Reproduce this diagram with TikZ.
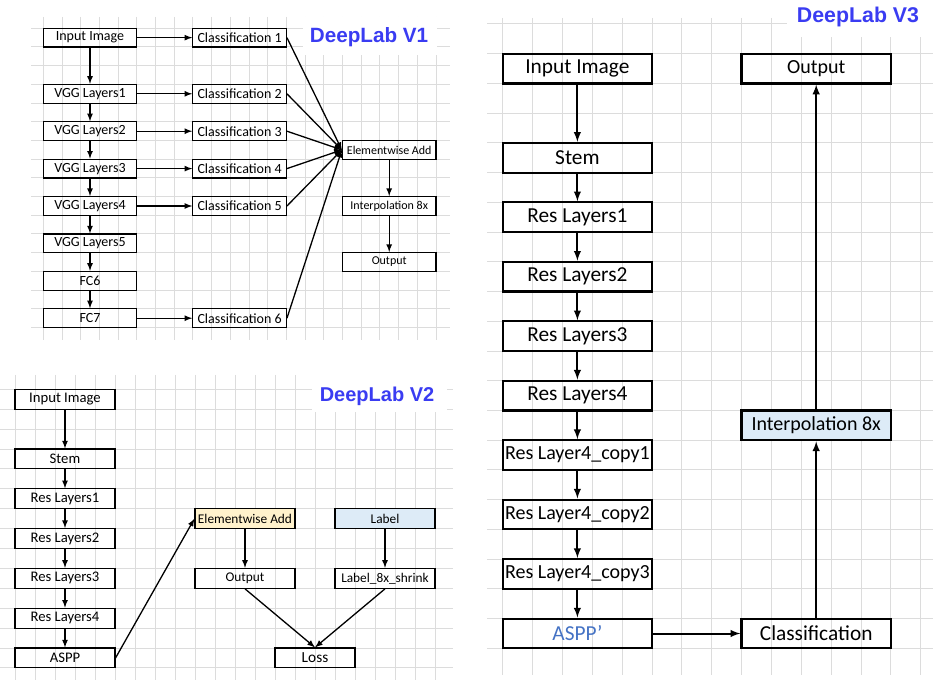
\documentclass[tikz,border=0pt]{standalone}
\usepackage{fontspec}
\setmainfont{Carlito}
\newfontfamily\headfont{Liberation Sans}
\usetikzlibrary{shapes.geometric, arrows, positioning, calc}

\definecolor{gridgray}{RGB}{220,220,220}
\definecolor{headblue}{RGB}{58,60,242}
\definecolor{asppblue}{RGB}{68,114,196}
\definecolor{addyellow}{RGB}{255,242,204}
\definecolor{labelblue}{RGB}{221,235,247}

\newdimen\px
\px=0.75pt

\tikzset{
  gridline/.style={gridgray, line width=1\px},
  heading/.style={text=headblue, inner sep=0pt, font=\headfont\bfseries},
  boxa/.style={draw, line width=1.2\px, minimum width=93.5\px, minimum height=18.7\px, inner sep=0pt, font=\fontsize{10.5}{12}\selectfont},
  boxb/.style={draw, line width=1.1\px, minimum width=100\px, minimum height=19.9\px, inner sep=0pt, font=\fontsize{11}{13}\selectfont},
  boxc/.style={draw, line width=2.2\px, minimum width=149.5\px, minimum height=29.7\px, inner sep=0pt, font=\fontsize{16}{19}\selectfont},
  linka/.style={-latex, line width=1.3\px},
  linkb/.style={-latex, line width=1.3\px},
  linkc/.style={-latex, line width=2\px},
}

\begin{document}
\begin{tikzpicture}[x=0.75pt, y=-0.75pt]
\useasboundingbox (0,0) rectangle (933,681);

% Grids
\foreach \k in {0,...,21} \draw[gridline] (43.3+18.7*\k,17) -- (43.3+18.7*\k,340);
\foreach \k in {0,...,16} \draw[gridline] (31,28.3+18.7*\k) -- (450,28.3+18.7*\k);
\foreach \k in {0,...,21} \draw[gridline] (15+20*\k,375) -- (15+20*\k,680);
\foreach \k in {0,...,14} \draw[gridline] (0,389.3+19.9*\k) -- (453,389.3+19.9*\k);
\foreach \k in {0,...,14} \draw[gridline] (502.7+29.86*\k,18) -- (502.7+29.86*\k,675);
\foreach \k in {0,...,21} \draw[gridline] (487,24+29.73*\k) -- (933,24+29.73*\k);

% Titles
\fill[white] (303,17) rectangle (437,55);
\fill[white] (312,373) rectangle (447,412);
\fill[white] (787,0) rectangle (933,37);
\node[heading, font=\headfont\bfseries\fontsize{15.5}{18}\selectfont] (v1title) at (369,37) {DeepLab V1};
\node[heading, font=\headfont\bfseries\fontsize{15}{18}\selectfont] (v2title) at (377,396) {DeepLab V2};
\node[heading, font=\headfont\bfseries\fontsize{16}{19}\selectfont] (v3title) at (858,17) {DeepLab V3};

% DeepLab V1
\node[boxa] (in1) at (90,37.65) {Input Image};
\node[boxa] (vgg1) at (90,93.8) {VGG Layers1};
\node[boxa] (vgg2) at (90,131.2) {VGG Layers2};
\node[boxa] (vgg3) at (90,168.6) {VGG Layers3};
\node[boxa] (vgg4) at (90,206) {VGG Layers4};
\node[boxa] (vgg5) at (90,243.4) {VGG Layers5};
\node[boxa] (fc6) at (90,280.8) {FC6};
\node[boxa] (fc7) at (90,318.2) {FC7};

\node[boxa] (cls1) at (239.6,37.65) {Classification 1};
\node[boxa] (cls2) at (239.6,93.8) {Classification 2};
\node[boxa] (cls3) at (239.6,131.2) {Classification 3};
\node[boxa] (cls4) at (239.6,168.6) {Classification 4};
\node[boxa] (cls5) at (239.6,206) {Classification 5};
\node[boxa] (cls6) at (239.6,318.2) {Classification 6};

\node[boxa, font=\fontsize{9}{11}\selectfont] (add1) at (389.2,149.9) {Elementwise Add};
\node[boxa, font=\fontsize{9}{11}\selectfont] (interp1) at (389.2,206) {Interpolation 8x};
\node[boxa, font=\fontsize{9}{11}\selectfont] (out1) at (389.2,262) {Output};

\draw[linka] (in1) -- (vgg1);
\draw[linka] (vgg1) -- (vgg2);
\draw[linka] (vgg2) -- (vgg3);
\draw[linka] (vgg3) -- (vgg4);
\draw[linka] (vgg4) -- (vgg5);
\draw[linka] (vgg5) -- (fc6);
\draw[linka] (fc6) -- (fc7);
\draw[linka] (in1) -- (cls1);
\draw[linka] (vgg1) -- (cls2);
\draw[linka] (vgg2) -- (cls3);
\draw[linka] (vgg3) -- (cls4);
\draw[linka] (vgg4) -- (cls5);
\draw[linka] (fc7) -- (cls6);
\foreach \c in {cls1,cls2,cls3,cls4,cls5,cls6}
  \draw[linka] (\c.east) -- (add1.west);
\draw[linka] (add1) -- (interp1);
\draw[linka] (interp1) -- (out1);

% DeepLab V2
\node[boxb] (in2) at (65,399.25) {Input Image};
\node[boxb] (stem2) at (65,458.95) {Stem};
\node[boxb] (res21) at (65,498.75) {Res Layers1};
\node[boxb] (res22) at (65,538.55) {Res Layers2};
\node[boxb] (res23) at (65,578.35) {Res Layers3};
\node[boxb] (res24) at (65,618.15) {Res Layers4};
\node[boxb] (aspp2) at (65,657.95) {ASPP};

\node[boxb, fill=addyellow, font=\fontsize{10}{12}\selectfont] (add2) at (245,518.65) {Elementwise Add};
\node[boxb, fill=labelblue, font=\fontsize{10}{12}\selectfont] (lab2) at (385,518.65) {Label};
\node[boxb, font=\fontsize{10}{12}\selectfont] (out2) at (245,578.35) {Output};
\node[boxb, font=\fontsize{10}{12}\selectfont] (shrink2) at (385,578.35) {Label\_8x\_shrink};
\node[boxb, minimum width=80\px, font=\fontsize{11.5}{13}\selectfont] (loss2) at (315,657.95) {Loss};

\draw[linkb] (in2) -- (stem2);
\draw[linkb] (stem2) -- (res21);
\draw[linkb] (res21) -- (res22);
\draw[linkb] (res22) -- (res23);
\draw[linkb] (res23) -- (res24);
\draw[linkb] (res24) -- (aspp2);
\draw[linkb] (aspp2.east) -- (add2.west);
\draw[linkb] (add2) -- (out2);
\draw[linkb] (lab2) -- (shrink2);
\draw[linkb] (out2.south) -- (loss2.north);
\draw[linkb] (shrink2.south) -- (loss2.north);

% DeepLab V3
\node[boxc] (in3) at (577.4,68.6) {Input Image};
\node[boxc] (stem3) at (577.4,157.8) {Stem};
\node[boxc] (res31) at (577.4,217.2) {Res Layers1};
\node[boxc] (res32) at (577.4,276.7) {Res Layers2};
\node[boxc] (res33) at (577.4,336.2) {Res Layers3};
\node[boxc] (res34) at (577.4,395.6) {Res Layers4};
\node[boxc, font=\fontsize{15}{18}\selectfont] (copy31) at (577.4,455.1) {Res Layer4\_copy1};
\node[boxc, font=\fontsize{15}{18}\selectfont] (copy32) at (577.4,514.5) {Res Layer4\_copy2};
\node[boxc, font=\fontsize{15}{18}\selectfont] (copy33) at (577.4,574) {Res Layer4\_copy3};
\node[boxc, text=asppblue] (aspp3) at (577.4,633.5) {ASPP’};

\node[boxc, font=\fontsize{15}{18}\selectfont] (out3) at (816.2,68.6) {Output};
\node[boxc, fill=labelblue, font=\fontsize{15}{18}\selectfont] (interp3) at (816.2,425.4) {Interpolation 8x};
\node[boxc] (cls3) at (816.2,633.5) {Classification};

\draw[linkc] (in3) -- (stem3);
\draw[linkc] (stem3) -- (res31);
\draw[linkc] (res31) -- (res32);
\draw[linkc] (res32) -- (res33);
\draw[linkc] (res33) -- (res34);
\draw[linkc] (res34) -- (copy31);
\draw[linkc] (copy31) -- (copy32);
\draw[linkc] (copy32) -- (copy33);
\draw[linkc] (copy33) -- (aspp3);
\draw[linkc] (aspp3) -- (cls3);
\draw[linkc] (cls3) -- (interp3);
\draw[linkc] (interp3) -- (out3);
\end{tikzpicture}
\end{document}
